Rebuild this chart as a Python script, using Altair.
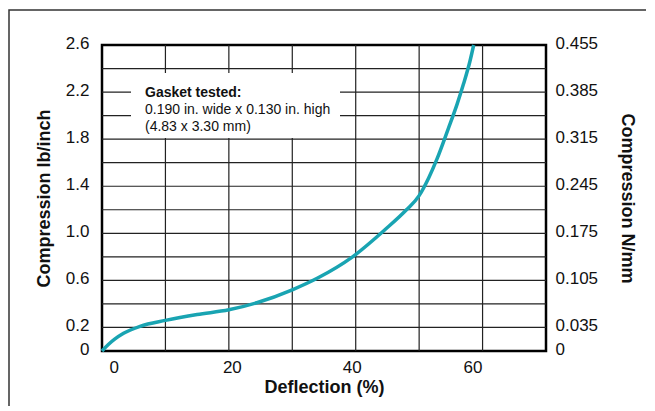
import altair as alt
import pandas as pd

# Data
deflection = [0, 1, 2, 3.4, 6, 10, 15, 20, 24.4, 30, 34, 39.5, 44.6, 48, 50, 51.5, 52.8, 54.6, 56, 57, 58, 58.6]
compression = [0, 0.055, 0.10, 0.15, 0.21, 0.26, 0.31, 0.35, 0.41, 0.52, 0.62, 0.80, 1.03, 1.20, 1.32, 1.47, 1.63, 1.89, 2.10, 2.27, 2.46, 2.6]

x_ticks = [0, 20, 40, 60]
x_grid = [10, 20, 30, 40, 50, 60]
left_ticks = [0, 0.2, 0.6, 1.0, 1.4, 1.8, 2.2, 2.6]
y_grid = [0.2, 0.4, 0.6, 0.8, 1.0, 1.2, 1.4, 1.6, 1.8, 2.0, 2.2, 2.4]
right_ticks = [0, 0.035, 0.105, 0.175, 0.245, 0.315, 0.385, 0.455]
note_lines = ["Gasket tested:", "0.190 in. wide x 0.130 in. high", "(4.83 x 3.30 mm)"]

FONT = "Liberation Sans"
TEAL = "#19a4b2"

df = pd.DataFrame({"x": deflection, "y": compression})
xg = pd.DataFrame({"x": x_grid})
yg = pd.DataFrame({"y": y_grid})
rt = pd.DataFrame({"r": right_ticks})
one = pd.DataFrame({"a": [0]})

xscale = alt.Scale(domain=[0, 70], nice=False, zero=False)
yscale = alt.Scale(domain=[0, 2.6], nice=False)

xaxis = alt.Axis(
    values=x_ticks, title="Deflection (%)", grid=False, ticks=False, tickSize=0,
    domain=False, labelPadding=8, titlePadding=3,
    labelOffset={"condition": [
        {"test": "datum.value == 0", "value": 7},
        {"test": "datum.value == 40", "value": -4},
        {"test": "datum.value == 60", "value": -10}], "value": 3},
)
yaxis = alt.Axis(
    values=left_ticks, title="Compression lb/inch", grid=False, ticks=False, tickSize=0,
    domain=False, labelPadding=13, titlePadding=12, labelOffset=-2,
    labelExpr="datum.value == 0 ? '0' : format(datum.value, '.1f')",
)

frame = alt.Chart(one).mark_rect(fill=None, stroke="#333", strokeWidth=1.5).encode(
    x=alt.value(-93), x2=alt.value(700), y=alt.value(-35), y2=alt.value(500)
)

vgrid = alt.Chart(xg).mark_rule(color="#222", strokeWidth=1.2).encode(
    x=alt.X("x:Q", scale=xscale, axis=xaxis)
)
hgrid = alt.Chart(yg).mark_rule(color="#222", strokeWidth=1.2).encode(
    y=alt.Y("y:Q", scale=yscale, axis=yaxis)
)

box = alt.Chart(one).mark_rect(fill="white", stroke=None).encode(
    x=alt.value(29), x2=alt.value(238), y=alt.value(28), y2=alt.value(93)
)
note_layers = []
for i, (txt, ypix) in enumerate(zip(note_lines, [52, 69, 86])):
    note_layers.append(
        alt.Chart(pd.DataFrame({"t": [txt]})).mark_text(
            align="left", baseline="alphabetic", font=FONT, fontSize=14,
            fontWeight="bold" if i == 0 else "normal", color="#111"
        ).encode(text="t:N", x=alt.value(43), y=alt.value(ypix))
    )

line = alt.Chart(df).mark_line(color=TEAL, strokeWidth=3.5, interpolate="monotone").encode(
    x=alt.X("x:Q", scale=xscale, axis=xaxis),
    y=alt.Y("y:Q", scale=yscale, axis=yaxis),
)

inner = alt.layer(frame, vgrid, hgrid, box, line, *note_layers)

right = alt.Chart(rt).mark_point(opacity=0).encode(
    y=alt.Y("r:Q", scale=alt.Scale(domain=[0, 0.455], nice=False),
            axis=alt.Axis(orient="right", values=right_ticks, title="Compression N/mm",
                          format=".3~f", grid=False, ticks=False, tickSize=0, domain=False,
                          labelPadding=9, titlePadding=20, labelOffset=-2))
)

chart = alt.layer(inner, right).resolve_scale(y="independent").properties(
    width=444, height=306,
    autosize=alt.AutoSizeParams(type="none"),
    padding={"left": 94, "top": 37, "right": 100, "bottom": 55},
    background="white",
).configure_view(stroke="black", strokeWidth=2.5).configure_axis(
    labelFont=FONT, titleFont=FONT, labelFontSize=17, titleFontSize=18,
    labelColor="#111", titleColor="#111", titleFontWeight="bold",
)

chart.save("out.html", embed_options={"renderer": "svg", "actions": False})
